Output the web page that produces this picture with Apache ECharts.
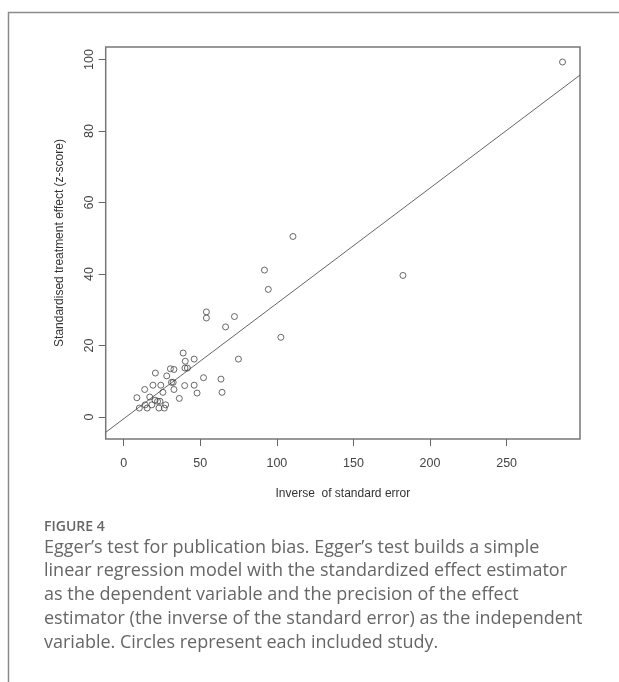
<!DOCTYPE html>
<html>
<head>
<meta charset="utf-8">
<script src="https://cdn.jsdelivr.net/npm/echarts@6/dist/echarts.min.js"></script>
<style>
html,body{margin:0;padding:0;background:#fff;}
#chart{width:619px;height:682px;}
</style>
</head>
<body>
<div id="chart"></div>
<script>
// Inverse of standard error (precision)
const precision = [286.5,110.5,91.9,94.4,182.3,102.6,54.0,54.0,72.3,66.5,74.9,38.8,40.2,46.0,40.0,41.6,30.5,32.8,20.7,28.1,52.1,63.5,31.2,32.3,19.1,24.2,39.8,46.0,13.7,32.8,25.6,47.9,64.2,8.6,17.0,36.3,20.5,22.1,23.7,14.0,18.4,27.4,10.2,15.3,23.0,26.5];
// Standardised treatment effect (z-score)
const zScore = [99.3,50.5,41.1,35.7,39.6,22.3,29.4,27.7,28.1,25.2,16.2,17.9,15.6,16.2,13.7,13.7,13.5,13.3,12.3,11.5,11.0,10.6,9.7,9.7,8.9,8.9,8.8,8.9,7.7,7.7,6.9,6.7,6.9,5.4,5.6,5.2,4.7,4.4,4.4,3.4,3.4,3.4,2.5,2.5,2.5,2.5];
// Egger regression line
const regIntercept = -0.49;
const regSlope = 0.3227;
const xTicks = [0,50,100,150,200,250];
const yTicks = [0,20,40,60,80,100];
const xRange = [-11.75, 297.9];
const yRange = [-6.15, 103.5];

const captionTitle = 'FIGURE 4';
const captionLines = [
  'Egger\u2019s test for publication bias. Egger\u2019s test builds a simple',
  'linear regression model with the standardized effect estimator',
  'as the dependent variable and the precision of the effect',
  'estimator (the inverse of the standard error) as the independent',
  'variable. Circles represent each included study.'
];

const points = precision.map((x, i) => [x, zScore[i]]);
const regLine = xRange.map(x => [x, regIntercept + regSlope * x]);

const chart = echarts.init(document.getElementById('chart'), null, {renderer: 'canvas'});
const axisFont = 'Liberation Sans, Arial, sans-serif';
const capFont = '"Open Sans", Lato, sans-serif';

const graphics = [
  {type: 'polyline', shape: {points: [[8.5, 682], [8.5, 12.5], [619, 12.5]]},
   style: {stroke: '#8a8a8a', lineWidth: 1.5, fill: null}, silent: true},
  {type: 'text', left: 44, top: 520, style: {text: captionTitle, font: '600 14px ' + capFont, fill: '#666'}}
];
captionLines.forEach((t, i) => {
  graphics.push({type: 'text', left: 44, top: 538.5 + i * 23.8,
    style: {text: t, font: '18px ' + capFont, fill: '#666'}});
});

chart.setOption({
  animation: false,
  backgroundColor: '#fff',
  graphic: graphics,
  grid: {left: 105.7, right: 39, top: 47, bottom: 243, show: true,
    borderColor: '#777', borderWidth: 1.5, backgroundColor: 'transparent'},
  xAxis: {
    type: 'value', min: xRange[0], max: xRange[1], position: 'bottom',
    axisLine: {show: false, onZero: false},
    splitLine: {show: false},
    axisTick: {show: true, inside: false, length: 7, lineStyle: {color: '#666'}, customValues: xTicks},
    axisLabel: {customValues: xTicks, margin: 18, fontFamily: axisFont, fontSize: 12.5, color: '#444'},
    name: 'Inverse  of standard error', nameLocation: 'middle', nameGap: 49,
    nameTextStyle: {fontFamily: axisFont, fontSize: 12, color: '#333'}
  },
  yAxis: {
    type: 'value', min: yRange[0], max: yRange[1], position: 'left',
    axisLine: {show: false, onZero: false},
    splitLine: {show: false},
    axisTick: {show: true, inside: false, length: 7, lineStyle: {color: '#666'}, customValues: yTicks},
    axisLabel: {customValues: yTicks, rotate: 90, margin: 10, fontFamily: axisFont, fontSize: 12.5, color: '#444'},
    name: 'Standardised treatment effect (z-score)', nameLocation: 'middle', nameGap: 40, nameRotate: 90,
    nameTextStyle: {fontFamily: axisFont, fontSize: 12, color: '#333'}
  },
  series: [
    {type: 'line', data: regLine, showSymbol: false, symbol: 'none',
     lineStyle: {color: '#666', width: 1}, clip: true, silent: true, z: 2},
    {type: 'scatter', data: points, symbol: 'circle', symbolSize: 6,
     itemStyle: {color: 'rgba(255,255,255,0)', borderColor: '#444', borderWidth: 1}, z: 3}
  ]
});
</script>
</body>
</html>
